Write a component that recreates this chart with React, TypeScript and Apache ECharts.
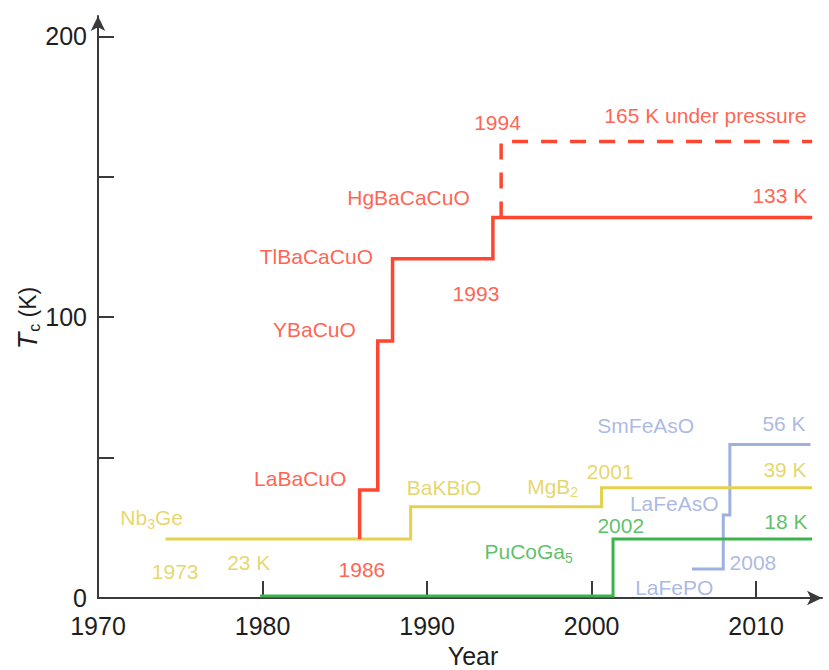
import React, { useEffect, useRef } from "react";
import * as echarts from "echarts";

const RED = "#ff4630";
const RED_TEXT = "#ff3a26";
const YELLOW = "#e4d24e";
const YELLOW_TEXT = "#e0cd45";
const GREEN = "#3cb44b";
const GREEN_TEXT = "#34b044";
const BLUE = "#9eb0df";
const BLUE_TEXT = "#95a8dc";
const AXIS = "#3a3a3a";
const FONT = "'Liberation Sans', Arial, Helvetica, sans-serif";

// Step series: each point is a transition (year, Tc in K)
const yellowYears = [1974.1, 1989.0, 2000.6, 2013.4];
const yellowTc = [21, 32.5, 39.3, 39.3];

const redYears = [1985.9, 1985.9, 1987.0, 1987.9, 1994.0, 2013.4];
const redTc = [21, 38.5, 91.5, 120.8, 135.5, 135.5];

const redDashYears = [1994.5, 1994.5, 2013.4];
const redDashTc = [135.5, 162.6, 162.6];

const greenYears = [1979.85, 2001.3, 2013.4];
const greenTc = [0.7, 21, 21];

const blueYears = [2006.1, 2008.0, 2008.4, 2013.3];
const blueTc = [10.3, 29.6, 54.7, 54.7];

const xTickLabels = [1970, 1980, 1990, 2000, 2010];
const xTicks = [1980, 1990, 2000, 2010];
const yTickLabels = [0, 100, 200];
const yTicks = [50, 100, 150, 200];

// Annotations: text, year, Tc, colour key
const noteTexts = [
  "Nb{s|3}Ge", "1973", "23 K", "1986", "LaBaCuO", "YBaCuO", "TlBaCaCuO",
  "HgBaCaCuO", "1994", "165 K under pressure", "133 K", "1993", "BaKBiO",
  "MgB{s|2}", "2001", "39 K", "SmFeAsO", "56 K", "LaFeAsO", "2002", "18 K",
  "PuCoGa{s|5}", "2008", "LaFePO",
];
const noteYears = [
  1973.26, 1974.69, 1979.16, 1986.04, 1982.29, 1983.15, 1983.27,
  1988.87, 1994.28, 2006.91, 2011.44, 1992.97, 1991.03,
  1997.63, 2001.13, 2011.75, 2003.29, 2011.69, 2005.02, 2001.77, 2011.81,
  1996.17, 2009.8, 2005.02,
];
const noteTc = [
  28.5, 9.3, 12.5, 10.0, 42.7, 95.5, 121.8,
  142.5, 169.5, 171.7, 143.2, 108.6, 39.2,
  39.8, 44.9, 45.6, 61.3, 62.3, 33.5, 26.0, 27.1,
  16.4, 12.8, 3.9,
];
const noteColors = [
  "y", "y", "y", "r", "r", "r", "r",
  "r", "r", "r", "r", "r", "y",
  "y", "y", "y", "b", "b", "b", "g", "g",
  "g", "b", "b",
];

const colorMap: Record<string, string> = { r: RED_TEXT, y: YELLOW_TEXT, g: GREEN_TEXT, b: BLUE_TEXT };

function pairs(xs: number[], ys: number[]) {
  return xs.map((x, i) => [x, ys[i]]);
}

export default function App() {
  const ref = useRef<HTMLDivElement>(null);

  useEffect(() => {
    if (!ref.current) return;
    const chart = echarts.init(ref.current, null, { renderer: "svg" });

    const stepSeries = (name: string, xs: number[], ys: number[], color: string, width: number, dashed = false) => ({
      type: "line",
      name,
      data: pairs(xs, ys),
      step: "end",
      symbol: "none",
      silent: true,
      lineStyle: { color, width, type: dashed ? [16, 13] : "solid", cap: "butt", join: "miter" },
      emphasis: { disabled: true },
    });

    const option: any = {
      animation: false,
      textStyle: { fontFamily: FONT },
      grid: { left: 98, right: 7, top: 16, bottom: 72, containLabel: false },
      xAxis: {
        type: "value",
        min: 1970,
        max: 2014,
        splitLine: { show: false },
        axisLine: {
          show: true,
          lineStyle: { color: AXIS, width: 2 },
          symbol: ["none", "arrow"],
          symbolSize: [11, 15],
        },
        axisTick: {
          show: true,
          inside: true,
          length: 17,
          lineStyle: { color: AXIS, width: 2 },
          customValues: xTicks,
        },
        axisLabel: {
          fontSize: 25,
          color: "#1e1e1e",
          margin: 15,
          fontFamily: FONT,
          customValues: xTickLabels,
          formatter: (v: number) => String(v),
        },
      },
      yAxis: {
        type: "value",
        min: 0,
        max: 207.3,
        splitLine: { show: false },
        axisLine: {
          show: true,
          lineStyle: { color: AXIS, width: 2 },
          symbol: ["none", "arrow"],
          symbolSize: [11, 15],
        },
        axisTick: {
          show: true,
          inside: true,
          length: 16,
          lineStyle: { color: AXIS, width: 2 },
          customValues: yTicks,
        },
        axisLabel: {
          fontSize: 25,
          color: "#1e1e1e",
          margin: 11,
          fontFamily: FONT,
          customValues: yTickLabels,
          formatter: (v: number) => String(v),
        },
      },
      series: [
        stepSeries("blue", blueYears, blueTc, BLUE, 3),
        stepSeries("green", greenYears, greenTc, GREEN, 3),
        stepSeries("yellow", yellowYears, yellowTc, YELLOW, 3),
        stepSeries("red", redYears, redTc, RED, 3.5),
        stepSeries("redDash", redDashYears, redDashTc, RED, 3.5, true),
        {
          type: "scatter",
          silent: true,
          symbolSize: 1,
          itemStyle: { color: "rgba(0,0,0,0)" },
          emphasis: { disabled: true },
          z: 10,
          data: noteTexts.map((t, i) => ({
            value: [noteYears[i], noteTc[i]],
            label: {
              show: true,
              position: "inside",
              formatter: t,
              color: colorMap[noteColors[i]],
              fontSize: 21,
              lineHeight: 22,
              fontFamily: FONT,
              rich: {
                s: {
                  fontSize: 14,
                  lineHeight: 12,
                  padding: [12, 0, 0, 0],
                  color: colorMap[noteColors[i]],
                  fontFamily: FONT,
                },
              },
            },
          })),
        },
      ],
      graphic: [
        {
          type: "text",
          x: 473,
          y: 656,
          silent: true,
          style: {
            text: "Year",
            fontSize: 25,
            fontFamily: FONT,
            fill: "#1e1e1e",
            align: "center",
            verticalAlign: "middle",
          },
        },
        {
          type: "text",
          x: 28,
          y: 318,
          rotation: Math.PI / 2,
          silent: true,
          style: {
            text: "{t|T}{c|c}{k| (K)}",
            fontSize: 23,
            fontFamily: FONT,
            fill: "#1e1e1e",
            align: "center",
            verticalAlign: "middle",
            rich: {
              t: { fontSize: 27, fontStyle: "italic", lineHeight: 28, fill: "#1e1e1e", fontFamily: FONT },
              c: { fontSize: 16, lineHeight: 14, padding: [12, 0, 0, 1], fill: "#1e1e1e", fontFamily: FONT },
              k: { fontSize: 23, lineHeight: 28, fill: "#1e1e1e", fontFamily: FONT },
            },
          },
        },
      ],
    };

    chart.setOption(option);
    return () => chart.dispose();
  }, []);

  return (
    <div
      ref={ref}
      style={{ position: "fixed", left: 0, top: 0, width: 829, height: 670, background: "#fff" }}
    />
  );
}
